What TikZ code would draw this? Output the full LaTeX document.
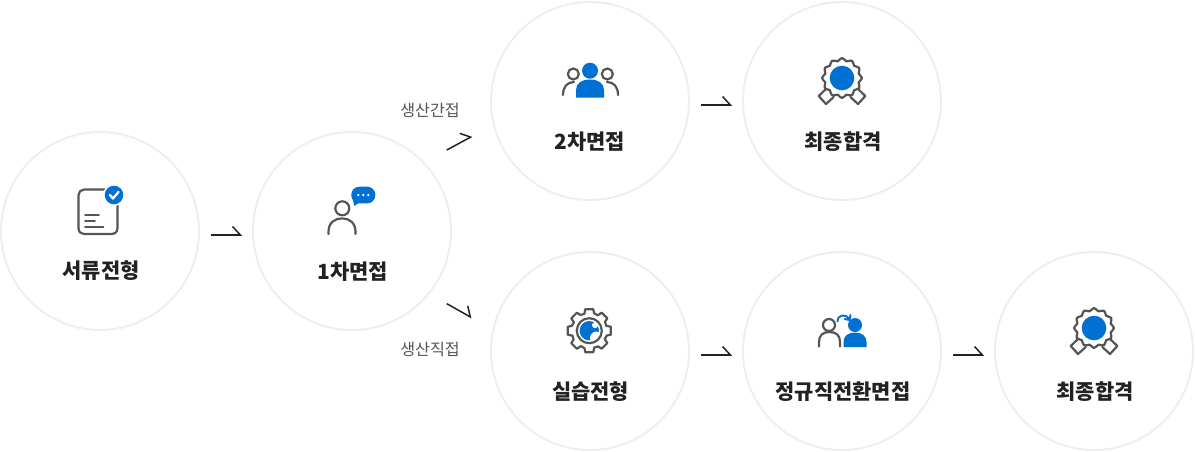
\documentclass[tikz,border=0pt]{standalone}
\usepackage{fontspec}
\setmainfont{Noto Sans CJK KR}
\usetikzlibrary{arrows.meta}
\definecolor{ringgray}{HTML}{EEEEEE}
\definecolor{linegray}{HTML}{555555}
\definecolor{inkdark}{HTML}{222222}
\definecolor{iconblue}{HTML}{0070D2}
\tikzset{
	stepcirc/.style={circle, draw=ringgray, line width=1.1pt, minimum size=3.96cm, inner sep=0pt},
	steptext/.style={font=\fontsize{11.9}{14}\selectfont\bfseries, text=inkdark, inner sep=0pt},
	sidetext/.style={font=\fontsize{9.2}{11}\selectfont, text=linegray, inner sep=0pt},
	flow/.style={draw=inkdark, line width=0.85pt, -{Straight Barb[left, length=4.4pt, width=9.6pt, line width=0.85pt]}},
	iconline/.style={draw=linegray, line width=1.25pt, line cap=round, line join=round, fill=none},
}
\newcommand{\iconmedal}[2]{
	\begin{scope}[shift={(#1,#2)}]
		\draw[iconline] plot[smooth cycle, samples=48, domain=0:352.5, variable=\a] ({(18.6+1.4*cos(12*\a))*cos(\a)}, {(18.6+1.4*cos(12*\a))*sin(\a)});
		\draw[iconline] (-16,11) -- (-23.3,18) -- (-16,26) -- (-8.3,19);
		\draw[iconline] (16,11) -- (23.3,18) -- (16,26) -- (8.3,19);
		\fill[iconblue] (0,0) circle (12.3);
	\end{scope}
}

\begin{document}
\begin{tikzpicture}[x=0.02cm, y=-0.02cm]
	\useasboundingbox (0,0) rectangle (1195,451);
	\node[stepcirc] (doc_circ) at (100,231) {};
	\node[stepcirc] (first_circ) at (352,231) {};
	\node[stepcirc] (second_circ) at (590,101) {};
	\node[stepcirc] (passa_circ) at (842,101) {};
	\node[stepcirc] (train_circ) at (590,351) {};
	\node[stepcirc] (conv_circ) at (842,351) {};
	\node[stepcirc] (passb_circ) at (1094,351) {};
	\node[steptext] (doc_text) at (101,271) {서류전형};
	\node[steptext] (first_text) at (352.5,272) {1차면접};
	\node[steptext] (second_text) at (590,142) {2차면접};
	\node[steptext] (passa_text) at (843,142) {최종합격};
	\node[steptext] (train_text) at (590.5,392) {실습전형};
	\node[steptext] (conv_text) at (843,392) {정규직전환면접};
	\node[steptext] (passb_text) at (1095,392) {최종합격};
	\node[sidetext] (indirect_text) at (430,110) {생산간접};
	\node[sidetext] (direct_text) at (430,349) {생산직접};
	\draw[flow] ([shift={(11,4)}]doc_circ.east) -- ([shift={(-10,4)}]first_circ.west);
	\draw[flow] ([shift={(18.2,-16.7)}]first_circ.40) -- ([shift={(-21.4,9.4)}]second_circ.195);
	\draw[flow] ([shift={(18.2,8.4)}]first_circ.-40) -- ([shift={(-21.7,-7.4)}]train_circ.165);
	\draw[flow] ([shift={(11,4)}]second_circ.east) -- ([shift={(-10,4)}]passa_circ.west);
	\draw[flow] ([shift={(11,4)}]train_circ.east) -- ([shift={(-10,4)}]conv_circ.west);
	\draw[flow] ([shift={(11,4)}]conv_circ.east) -- ([shift={(-10,4)}]passb_circ.west);
	\draw[iconline] (84,189.5) -- (111,189.5) .. controls (115,189.5) and (117.5,192) .. (117.5,196) -- (117.5,228) .. controls (117.5,232) and (115,234) .. (111,234) -- (84,234) .. controls (81,234) and (78.5,232) .. (78.5,228) -- (78.5,195) .. controls (78.5,192) and (81,189.5) .. (84,189.5) -- cycle;
	\draw[iconline, line width=1pt] (85,215) -- (99,215) (85,221) -- (95,221) (85,227) -- (103.5,227);
	\fill[white] (114,195) circle (11);
	\fill[iconblue] (114,195) circle (9.3);
	\draw[white, line width=1.3pt, line cap=round, line join=round] (110,195) -- (113,198.5) -- (118.5,192);
	\draw[iconline] (342.3,208.3) circle (7);
	\draw[iconline] (328.5,234) -- (328.5,232) .. controls (328.5,223) and (334,218.5) .. (342,218.5) .. controls (350,218.5) and (355.5,223) .. (355.5,232) -- (355.5,234);
	\fill[iconblue, rounded corners=4.5pt] (351.3,186.7) rectangle (375.3,203.3);
	\fill[iconblue] (353,200) -- (354.3,206) -- (360,202) -- cycle;
	\foreach \xd in {358.3,363.3,368.3}
		\fill[white] (\xd,195) circle (1.3);
	\draw[iconline] (573.3,74) circle (5.5);
	\draw[iconline] (607.3,74) circle (5.5);
	\draw[iconline] (563,95) .. controls (563,87) and (567,82) .. (574,82);
	\draw[iconline] (618,95) .. controls (618,87) and (614,82) .. (607,82);
	\fill[white] (574,98) -- (574,90) .. controls (574,82) and (581,77.5) .. (590,77.5) .. controls (599,77.5) and (606,82) .. (606,90) -- (606,98) -- cycle;
	\fill[iconblue] (590,70.7) circle (8);
	\fill[iconblue] (576,97.5) -- (576,90) .. controls (576,83) and (582,79.5) .. (590,79.5) .. controls (598,79.5) and (604,83) .. (604,90) -- (604,97.5) -- cycle;
	\iconmedal{842}{78}
	\iconmedal{1094}{328}
	\foreach \r in {0,45,...,315}
		\draw[iconline, shift={(589.3,330.7)}, rotate=\r] (17.5,-4.8) -- (21.5,-4) -- (21.5,4) -- (17.5,4.8) -- ({17.5*cos(29)},{17.5*sin(29)});
	\fill[iconblue] (589.3,330.7) circle (9.7);
	\fill[white] (596.5,338) circle (6.5);
	\fill[white] (595,325.2) circle (3);
	\draw[iconline] (589.3,330.7) circle (12.5);
	\draw[iconline] (829,325) circle (6);
	\draw[iconline] (819,346.5) -- (819,342) .. controls (819,335) and (823,332) .. (829.5,332) .. controls (836,332) and (840,335) .. (840,342) -- (840,346.5);
	\fill[iconblue] (855,325) circle (7);
	\fill[iconblue] (843.5,347) -- (843.5,342) .. controls (843.5,336) and (848,332.5) .. (855,332.5) .. controls (862,332.5) and (866.5,336) .. (866.5,342) -- (866.5,347) -- cycle;
	\draw[iconblue, line width=1.1pt, line cap=round, line join=round] (837.5,321.5) .. controls (837.5,314.5) and (846,313) .. (849.3,319.5) (844.8,319) -- (849.5,320) -- (850.5,315);
\end{tikzpicture}
\end{document}
